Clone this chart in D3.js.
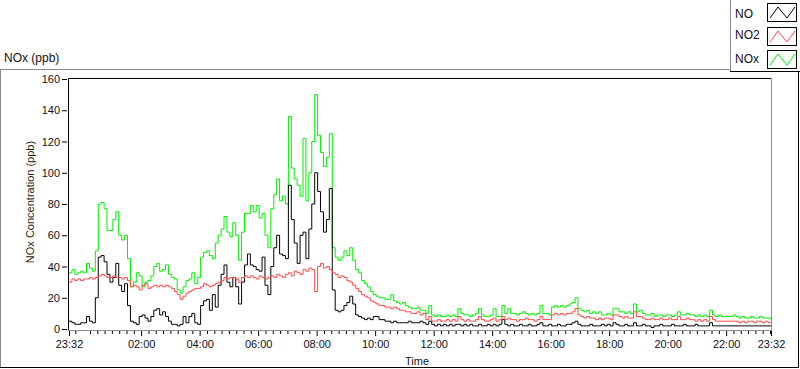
<!DOCTYPE html>
<html>
<head>
<meta charset="utf-8">
<script src="https://cdn.jsdelivr.net/npm/d3@7"></script>
<style>
  body{margin:0;background:#fff;}
  svg{display:block;font-family:"Liberation Sans",Arial,sans-serif;}
</style>
</head>
<body>
<svg id="chart" width="800" height="369"></svg>
<script>

// samples every 6 minutes, from 23:32 to 23:32 the next day
var stepMinutes = 6;
var startTime   = new Date(2020,0,1,23,32);
var endTime     = new Date(2020,0,2,23,32);

var seriesNames = ["NO","NO2","NOx"];

var noValues = [
  5,4,3,3,4,4,8,5,4,20,46,47,43,35,30,33,42,28,24,29,15,5,4,3,8,9,7,5,8,12,
  13,9,11,8,5,3,3,2,3,8,4,8,10,4,3,15,18,19,12,22,14,28,35,41,30,27,33,27,16,30,41,
  48,41,40,38,37,46,28,22,40,52,60,48,47,45,92,70,55,42,60,62,45,64,80,100,88,75,62,70,90,25,
  12,11,12,15,17,21,16,9,8,7,6,7,6,8,8,6,6,5,5,4,5,4,4,4,4,5,4,4,4,5,4,
  3,5,3,2,3,2,3,2,3,2, 3,3,2,3,2,3,2,2,3,2, 2,3,2,3,2,3,6,3,2,3, 2,2,3,2,2,3,2,2,3,4,
  2,2,3,2,2,3,2,2,3,3, 4,5,3,2,2,2,3,2,2,2, 3,2,3,2,4,3,2,2,3,2, 2,4,2,2,3,2,2,1,2,2,
  3,2,2,2,3,2,2,2,3,2, 2,2,3,2,2,2,2,4,2,2, 2,2,2,2,2,2,2,2,2,2, 2,2,2,2,2,2,2,2,2
];

var no2Values = [
  30,32,31,32,31,32,32,33,32,33,34,35,34,33,33,34,33,33,32,33,31,27,28,27,25,28,29,26,27,28,
  27,28,27,28,27,26,24,22,19,21,23,24,25,26,26,27,29,28,27,28,29,30,31,33,32,33,33,32,30,33,34,
  33,34,33,32,34,33,32,33,34,33,35,34,33,35,36,34,37,36,35,38,37,39,38,24,40,42,39,40,38,36,
  35,33,34,33,31,30,28,26,24,22,21,20,18,17,16,15,15,14,14,13,14,13,12,12,11,11,10,10,11,9,10,
  6,8,5,5,6,5,5,6,5,6, 5,8,6,5,6,5,5,6,8,6, 5,5,6,7,5,6,8,6,7,6, 6,5,6,6,7,6,6,5,6,8,
  6,6,6,9,10,9,10,9,10,10, 11,13,9,8,7,8,7,7,6,7, 6,7,7,6,9,9,8,7,8,7, 7,11,8,8,7,6,6,7,6,6,
  7,6,6,7,6,6,8,6,6,7, 6,6,5,6,5,6,5,8,6,5, 5,5,5,5,5,5,5,4,5,4, 5,5,4,5,5,4,5,4,4
];

var noxValues = [
  36,38,35,36,37,36,42,39,37,50,80,81,77,63,63,70,75,60,57,60,45,27,30,36,34,27,30,31,34,40,
  42,37,38,41,35,33,32,25,23,27,31,32,36,29,33,46,49,50,47,45,55,60,64,72,62,59,68,60,44,62,74,
  74,79,75,79,71,74,60,52,77,86,96,82,85,80,136,103,96,92,85,122,82,100,120,150,124,113,104,110,125,52,
  46,44,46,50,47,52,44,38,36,31,29,27,24,22,21,20,20,19,19,22,18,17,16,17,15,14,13,13,14,12,12,
  10,15,9,8,9,8,8,9,8,9, 8,13,10,9,9,8,9,10,13,9, 8,8,9,13,8,8,15,10,13,10, 10,9,10,11,10,9,10,9,10,15,
  10,10,9,14,15,14,15,14,15,16, 17,20,13,12,11,12,10,11,10,11, 9,9,10,9,13,13,11,11,10,11,
  10,16,11,12,10,9,9,10,8,9, 9,8,9,9,8,9,11,9,9,10, 9,9,8,9,8,9,8,12,9,8,
  9,8,8,8,8,9,8,7,8,7, 7,8,7,7,8,7,7,7,6
];

var yTicks = [0,20,40,60,80,100,120,140,160];

var seriesColors = ["#000000","#ff4848","#00f000"];


function timeAt(i){
  return new Date(startTime.getTime() + i*stepMinutes*60000);
}


var svg = d3.select("#chart");

var plot = {left:69, right:771, top:79, bottom:329};

var x = d3.scaleTime()
  .domain([startTime,endTime])
  .range([plot.left,plot.right]);

var y = d3.scaleLinear()
  .domain([0,160])
  .range([plot.bottom,plot.top]);


//......................... Outer panel + legend frame ..........................
svg.append("line")
  .attr("x1",0).attr("x2",730).attr("y1",69.5).attr("y2",69.5)
  .attr("stroke","#8a8a8a");
svg.append("line")
  .attr("x1",0.5).attr("x2",0.5).attr("y1",69.5).attr("y2",368)
  .attr("stroke","#8a8a8a");
svg.append("line")
  .attr("x1",0).attr("x2",799).attr("y1",367.5).attr("y2",367.5)
  .attr("stroke","#000");
svg.append("line")
  .attr("x1",798.5).attr("x2",798.5).attr("y1",72).attr("y2",368)
  .attr("stroke","#000");

svg.append("line")
  .attr("x1",730.5).attr("x2",730.5).attr("y1",0).attr("y2",72)
  .attr("stroke","#8a8a8a");
svg.append("line")
  .attr("x1",730).attr("x2",800).attr("y1",71.5).attr("y2",71.5)
  .attr("stroke","#000");
//-------------------------------------------------------------------------------


svg.append("text")
  .attr("x",4).attr("y",62)
  .attr("font-size",12)
  .attr("fill","#111")
  .text("NOx (ppb)");


//......................... Axes ..............................................
var xMajor = d3.timeHour.every(2).range(startTime,endTime)
  .filter(function(d){return d.getHours() != 0;});
xMajor = [startTime].concat(xMajor).concat([endTime]);

var xMinor = d3.timeMinute.every(15).range(startTime,endTime)
  .filter(function(d){return d.getMinutes() != 0 || d.getHours()%2 != 0;});

var xAxisMinor = svg.append("g")
  .attr("transform","translate(0,331)")
  .call(d3.axisBottom(x).tickValues(xMinor).tickSize(3).tickFormat(""));
xAxisMinor.select(".domain").remove();

var xAxis = svg.append("g")
  .attr("transform","translate(0,331)")
  .call(d3.axisBottom(x)
    .tickValues(xMajor)
    .tickSize(5)
    .tickPadding(4)
    .tickFormat(d3.timeFormat("%H:%M")));
xAxis.select(".domain").remove();
xAxis.selectAll("text")
  .attr("font-size",11)
  .attr("font-family","Liberation Sans, Arial, sans-serif")
  .attr("fill","#101020");

var yAxis = svg.append("g")
  .attr("transform","translate(67,0)")
  .call(d3.axisLeft(y)
    .tickValues(yTicks)
    .tickSize(5)
    .tickPadding(2));
yAxis.select(".domain").remove();
yAxis.selectAll("text")
  .attr("font-size",11)
  .attr("font-family","Liberation Sans, Arial, sans-serif")
  .attr("fill","#101020");

svg.append("text")
  .attr("x",417).attr("y",365)
  .attr("text-anchor","middle")
  .attr("font-size",11)
  .attr("fill","#101020")
  .text("Time");

svg.append("text")
  .attr("transform","translate(34,202) rotate(-90)")
  .attr("text-anchor","middle")
  .attr("font-size",11)
  .attr("fill","#2a1c08")
  .text("NOx Concentration (ppb)");
//-------------------------------------------------------------------------------


//......................... Plot frame .........................................
svg.append("line")
  .attr("x1",68.5).attr("x2",771.5).attr("y1",78.5).attr("y2",78.5)
  .attr("stroke","#000");
svg.append("line")
  .attr("x1",68.5).attr("x2",68.5).attr("y1",78.5).attr("y2",331)
  .attr("stroke","#000");
svg.append("line")
  .attr("x1",68).attr("x2",772).attr("y1",330.5).attr("y2",330.5)
  .attr("stroke","#909090");
svg.append("line")
  .attr("x1",771.5).attr("x2",771.5).attr("y1",78.5).attr("y2",331)
  .attr("stroke","#909090");
//-------------------------------------------------------------------------------


//......................... Series .............................................
var line = d3.line()
  .x(function(d,i){return x(timeAt(i));})
  .y(function(d){return y(d);})
  .curve(d3.curveStepAfter);

var series = [noxValues,noValues,no2Values];
var colorOf = [seriesColors[2],seriesColors[0],seriesColors[1]];

svg.append("g")
  .attr("class","series")
  .selectAll("path")
  .data(series)
  .enter()
  .append("path")
  .attr("d",line)
  .attr("fill","none")
  .attr("stroke",function(d,i){return colorOf[i];})
  .attr("stroke-width",1);
//-------------------------------------------------------------------------------


//......................... Legend .............................................
var legendY = [18,39,63];
var boxY    = [3,27,50];

var legend = svg.append("g").attr("class","legend");

seriesNames.forEach(function(name,i){
  legend.append("text")
    .attr("x",735).attr("y",legendY[i])
    .attr("font-size",12)
    .attr("fill","#101020")
    .text(name);

  var g = legend.append("g")
    .attr("transform","translate(767,"+boxY[i]+")");
  g.append("rect")
    .attr("x",0.5).attr("y",0.5)
    .attr("width",29).attr("height",18)
    .attr("fill","#fff")
    .attr("stroke","#000");
  g.append("polyline")
    .attr("points","3,15 11,4 20,15 28,4")
    .attr("fill","none")
    .attr("stroke",seriesColors[i]);
});
//-------------------------------------------------------------------------------

</script>
</body>
</html>
